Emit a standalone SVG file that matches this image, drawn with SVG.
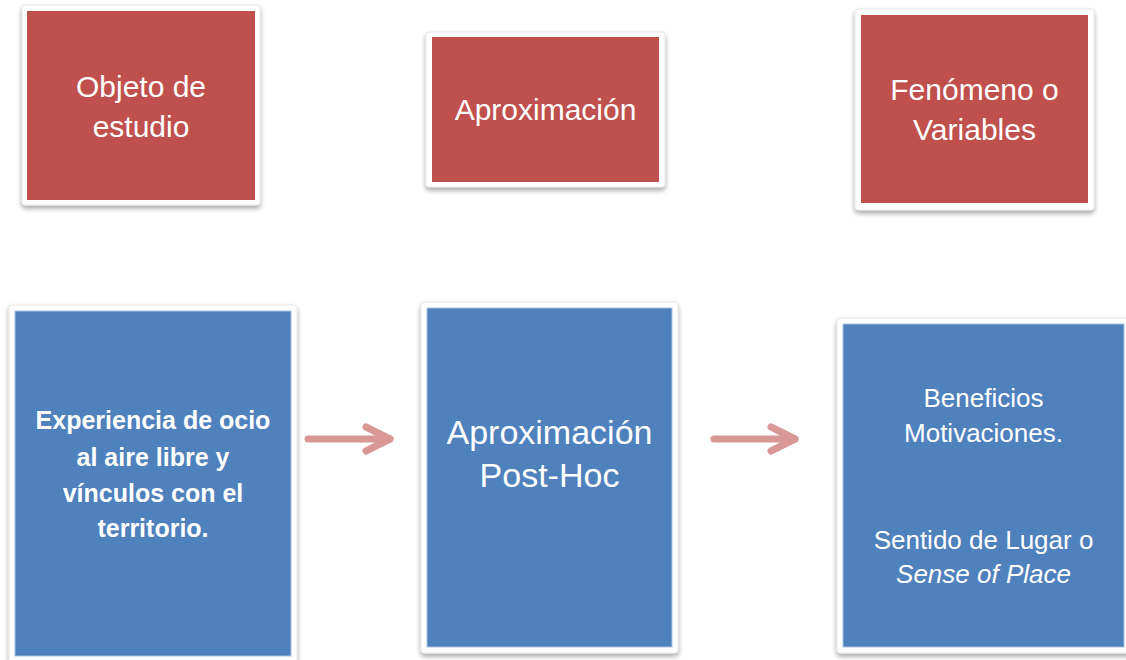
<svg xmlns="http://www.w3.org/2000/svg" width="1126" height="660" viewBox="0 0 1126 660">
  <defs>
    <filter id="sh" x="-10%" y="-10%" width="120%" height="125%">
      <feGaussianBlur in="SourceAlpha" stdDeviation="2.5"/>
      <feOffset dx="0" dy="3" result="b"/>
      <feComponentTransfer><feFuncA type="linear" slope="0.35"/></feComponentTransfer>
      <feMerge><feMergeNode/><feMergeNode in="SourceGraphic"/></feMerge>
    </filter>
  </defs>
  <style>
    .frame { fill: #ffffff; stroke: #e6e6e6; stroke-width: 1; filter: url(#sh); }
    .red { fill: #c0504d; }
    .blue { fill: #4f81bd; stroke: #a9c2e2; stroke-width: 1; }
    .t { font-family: "Liberation Sans", Arial, sans-serif; fill: #ffffff; text-anchor: middle; }
    .conn { stroke: #d99795; stroke-width: 7; stroke-linecap: round; stroke-linejoin: round; fill: none; }
  </style>
  <rect width="1126" height="660" fill="#ffffff"/>

  <g id="objeto">
    <rect class="frame" x="22" y="5" width="238" height="200" rx="3"/>
    <rect class="red" x="27" y="11" width="228" height="189"/>
    <text class="t" font-size="30" x="141" y="97">Objeto de</text>
    <text class="t" font-size="30" x="141" y="137">estudio</text>
  </g>

  <g id="aproximacion">
    <rect class="frame" x="426" y="32" width="239" height="155" rx="3"/>
    <rect class="red" x="432" y="37" width="227" height="145"/>
    <text class="t" font-size="30" x="545.5" y="120">Aproximación</text>
  </g>

  <g id="fenomeno">
    <rect class="frame" x="855" y="9" width="239" height="201" rx="3"/>
    <rect class="red" x="861" y="15" width="227" height="188"/>
    <text class="t" font-size="30" x="974.5" y="100">Fenómeno o</text>
    <text class="t" font-size="30" x="974.5" y="140">Variables</text>
  </g>

  <g id="experiencia">
    <rect class="frame" x="9" y="305" width="288" height="370" rx="3"/>
    <rect class="blue" x="15" y="311" width="276" height="345"/>
    <text class="t" font-size="25" font-weight="bold" x="153" y="429">Experiencia de ocio</text>
    <text class="t" font-size="25" font-weight="bold" x="153" y="466">al aire libre y</text>
    <text class="t" font-size="25" font-weight="bold" x="153" y="502">vínculos con el</text>
    <text class="t" font-size="25" font-weight="bold" x="153" y="537">territorio.</text>
  </g>

  <g id="posthoc">
    <rect class="frame" x="421" y="302" width="257" height="351" rx="3"/>
    <rect class="blue" x="427" y="308" width="245" height="339"/>
    <text class="t" font-size="34" x="549.5" y="444">Aproximación</text>
    <text class="t" font-size="34" x="549.5" y="487">Post-Hoc</text>
  </g>

  <g id="beneficios">
    <rect class="frame" x="837" y="318" width="300" height="335" rx="3"/>
    <rect class="blue" x="843" y="324" width="281" height="323"/>
    <text class="t" font-size="26" x="983.5" y="407">Beneficios</text>
    <text class="t" font-size="26" x="983.5" y="442">Motivaciones.</text>
    <text class="t" font-size="26" x="983.5" y="549">Sentido de Lugar o</text>
    <text class="t" font-size="26" x="983.5" y="583" font-style="italic">Sense of Place</text>
  </g>

  <g id="connectors">
    <line class="conn" x1="308" y1="439" x2="390" y2="439"/>
    <polyline class="conn" points="366,427 390,439 366,451"/>
    <line class="conn" x1="714" y1="439" x2="795" y2="439"/>
    <polyline class="conn" points="771,427 795,439 771,451"/>
  </g>
</svg>
